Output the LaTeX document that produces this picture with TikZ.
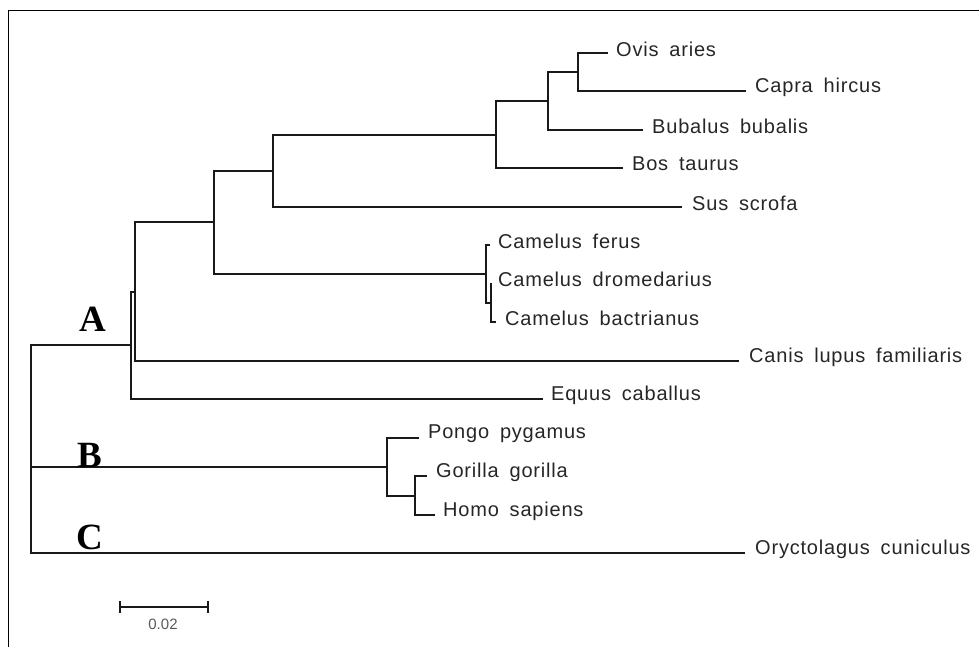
\documentclass[tikz,border=0pt]{standalone}
\usepackage{fontspec}
\setmainfont{Liberation Serif}
\newfontfamily\leaffont[LetterSpace=4,WordSpace=1.7]{Liberation Sans}
\newfontfamily\scalefont{Liberation Sans}
\begin{document}
\begin{tikzpicture}[x=1pt,y=-1pt,
  branch/.style={line width=1.9pt,color=black!90},
  leaf/.style={anchor=west,inner sep=0pt,font=\leaffont\fontsize{20}{24}\selectfont,text=black!85},
  clade/.style={anchor=base,inner sep=0pt,font=\bfseries\fontsize{37}{40}\selectfont,text=black},
  frameline/.style={line width=1.6pt,color=black}]
\useasboundingbox (0,0) rectangle (979,647);

% outer frame: top and left edges only
\coordinate (fTL) at (8.5,10.5);
\coordinate (fTR) at (979,10.5);
\coordinate (fBL) at (8.5,647);
\draw[frameline] (fBL) -- (fTL) -- (fTR);

% branch tips
\coordinate (Ovis)  at (608,53);
\coordinate (Capra) at (746,91);
\coordinate (Bubal) at (643,130);
\coordinate (Bos)   at (623,168);
\coordinate (Sus)   at (682,207);
\coordinate (Cfer)  at (490,245);
\coordinate (Cdro)  at (492,284);
\coordinate (Cbac)  at (496,322);
\coordinate (Canis) at (739,361);
\coordinate (Equus) at (543,399);
\coordinate (Pongo) at (419,438);
\coordinate (Goril) at (427,476);
\coordinate (Homo)  at (435,515);
\coordinate (Oryct) at (745,553);

% internal nodes
\coordinate (n1) at (578,72);
\coordinate (n2) at (548,101);
\coordinate (n3) at (496,135);
\coordinate (n4) at (273,171);
\coordinate (c2) at (491,303);
\coordinate (c1) at (486,274);
\coordinate (n5) at (214,222);
\coordinate (n6) at (135,292);
\coordinate (n7) at (131,345);
\coordinate (p2) at (415,496);
\coordinate (p1) at (387,467);
\coordinate (root) at (31,449);

% branches
\draw[branch] (n1) |- (Ovis)  (n1) |- (Capra);
\draw[branch] (n2) |- (n1)    (n2) |- (Bubal);
\draw[branch] (n3) |- (n2)    (n3) |- (Bos);
\draw[branch] (n4) |- (n3)    (n4) |- (Sus);
\draw[branch] (c2) |- (Cdro)  (c2) |- (Cbac);
\draw[branch] (c1) |- (Cfer)  (c1) |- (c2);
\draw[branch] (n5) |- (n4)    (n5) |- (c1);
\draw[branch] (n6) |- (n5)    (n6) |- (Canis);
\draw[branch] (n7) |- (n6)    (n7) |- (Equus);
\draw[branch] (p2) |- (Goril) (p2) |- (Homo);
\draw[branch] (p1) |- (Pongo) (p1) |- (p2);
\draw[branch] (root) |- (n7)  (root) |- (p1)  (root) |- (Oryct);

% taxon labels
\node[leaf] (tOvis)  at ([shift={(8,-4)}]Ovis)  {Ovis aries};
\node[leaf] (tCapra) at ([shift={(9,-4)}]Capra) {Capra hircus};
\node[leaf] (tBubal) at ([shift={(9,-4)}]Bubal) {Bubalus bubalis};
\node[leaf] (tBos)   at ([shift={(9,-4)}]Bos)   {Bos taurus};
\node[leaf] (tSus)   at ([shift={(10,-4)}]Sus)  {Sus scrofa};
\node[leaf] (tCfer)  at ([shift={(8,-4)}]Cfer)  {Camelus ferus};
\node[leaf] (tCdro)  at ([shift={(6,-5)}]Cdro)  {Camelus dromedarius};
\node[leaf] (tCbac)  at ([shift={(9,-4)}]Cbac)  {Camelus bactrianus};
\node[leaf] (tCanis) at ([shift={(10,-4)}]Canis) {Canis lupus familiaris};
\node[leaf] (tEquus) at ([shift={(8,-4)}]Equus) {Equus caballus};
\node[leaf] (tPongo) at ([shift={(9,-4)}]Pongo) {Pongo pygamus};
\node[leaf] (tGoril) at ([shift={(9,-4)}]Goril) {Gorilla gorilla};
\node[leaf] (tHomo)  at ([shift={(8,-4)}]Homo)  {Homo sapiens};
\node[leaf] (tOryct) at ([shift={(10,-4)}]Oryct) {Oryctolagus cuniculus};

% clade letters
\node[clade] (cladeA) at (93,331) {A};
\node[clade] (cladeB) at (90,467) {B};
\node[clade] (cladeC) at (90,549) {C};

% scale bar
\coordinate (sbL) at (120,607);
\coordinate (sbR) at (208,607);
\draw[branch] (sbL) -- (sbR);
\draw[branch] ([yshift=-6]sbL) -- ([yshift=6]sbL);
\draw[branch] ([yshift=-6]sbR) -- ([yshift=6]sbR);
\node[inner sep=0pt,font=\scalefont\fontsize{15}{18}\selectfont,text=black!65] (sbText) at (163,624) {0.02};
\end{tikzpicture}
\end{document}
